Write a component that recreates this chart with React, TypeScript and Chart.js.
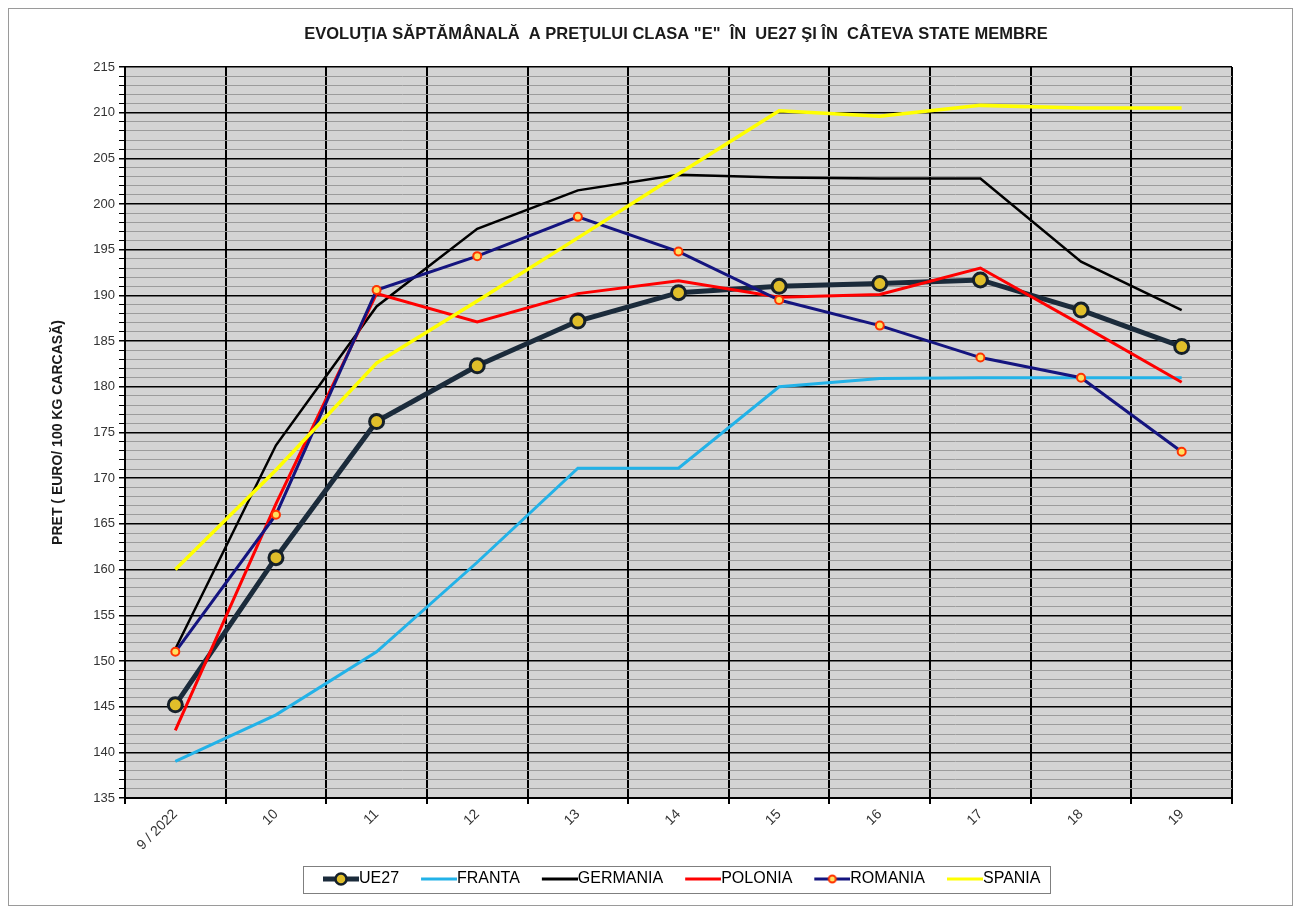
import React, { useEffect, useRef } from 'react';
import { Chart, registerables } from 'chart.js';

Chart.register(...registerables);

// ---- Data ----
const weeks = ['9 / 2022', '10', '11', '12', '13', '14', '15', '16', '17', '18', '19'];
const ue27 = [145.2, 161.3, 176.2, 182.3, 187.2, 190.3, 191.0, 191.3, 191.7, 188.4, 184.4];
const franta = [139.0, 144.1, 151.0, 160.8, 171.1, 171.1, 180.0, 180.9, 181.0, 181.0, 181.0];
const germania = [151.3, 173.6, 188.8, 197.3, 201.5, 203.2, 202.9, 202.8, 202.8, 193.7, 188.4];
const polonia = [142.4, 167.2, 190.2, 187.1, 190.2, 191.6, 189.8, 190.1, 193.0, 186.8, 180.5];
const romania = [151.0, 166.0, 190.6, 194.3, 198.6, 194.8, 189.5, 186.7, 183.2, 181.0, 172.9];
const spania = [160.0, 170.9, 182.6, 189.4, 196.3, 203.3, 210.2, 209.6, 210.8, 210.5, 210.5];

const seriesNames = ['UE27', 'FRANTA', 'GERMANIA', 'POLONIA', 'ROMANIA', 'SPANIA'];
const titleText = 'EVOLUŢIA SĂPTĂMÂNALĂ  A PREŢULUI CLASA "E"  ÎN  UE27 ŞI ÎN  CÂTEVA STATE MEMBRE';
const yTitleText = 'PRET ( EURO/ 100 KG CARCASĂ)';
const yMin = 135;
const yMax = 215;

// ---- Layout constants (canvas coordinates) ----
const TITLE_CENTER = 667;
const LEGEND_START = 310;
const FONT = 'Liberation Sans, Arial, sans-serif';

type Marker = { r: number; fill: string; stroke: string; bw: number };

// legend symbol: 48px wide image, visible line in the right 36px
function makeSymbol(color: string, width: number, marker?: Marker) {
  const c = document.createElement('canvas');
  c.width = 48;
  c.height = 18;
  const g = c.getContext('2d')!;
  g.strokeStyle = color;
  g.lineWidth = width;
  g.beginPath();
  g.moveTo(12, 9);
  g.lineTo(48, 9);
  g.stroke();
  if (marker) {
    g.beginPath();
    g.arc(30, 9, marker.r, 0, Math.PI * 2);
    g.fillStyle = marker.fill;
    g.fill();
    g.lineWidth = marker.bw;
    g.strokeStyle = marker.stroke;
    g.stroke();
  }
  return c;
}

export default function App() {
  const ref = useRef<HTMLCanvasElement | null>(null);

  useEffect(() => {
    if (!ref.current) return;

    const symbols = [
      makeSymbol('#1B2B3B', 5, { r: 5.5, fill: '#E0BE2A', stroke: '#15202B', bw: 2.5 }),
      makeSymbol('#22B2E8', 3),
      makeSymbol('#000000', 3),
      makeSymbol('#FF0000', 3),
      makeSymbol('#14147F', 3, { r: 3.5, fill: '#FFE060', stroke: '#FF3300', bw: 2 }),
      makeSymbol('#FFFF00', 3),
    ];

    const customPlugin = {
      id: 'customLayout',
      afterLayout(chart: any) {
        const lg = chart.legend;
        if (lg && lg.lineWidths) {
          const pad = lg.options.labels.padding;
          const cur = (lg.left + pad + lg.right - lg.lineWidths[0]) / 2;
          const shift = LEGEND_START - cur;
          lg.left += shift;
          lg.right += shift;
        }
        const tb = chart.titleBlock;
        if (tb) {
          const s = TITLE_CENTER - (tb.left + tb.right) / 2;
          tb.left += s;
          tb.right += s;
        }
      },
      beforeDraw(chart: any) {
        const { ctx, chartArea } = chart;
        ctx.save();
        ctx.fillStyle = '#D4D4D4';
        ctx.fillRect(chartArea.left, chartArea.top, chartArea.right - chartArea.left, chartArea.bottom - chartArea.top);
        ctx.restore();
      },
      afterDraw(chart: any) {
        const lg = chart.legend;
        if (!lg || !lg.legendHitBoxes || !lg.legendHitBoxes.length) return;
        const hb = lg.legendHitBoxes;
        const first = hb[0];
        const last = hb[hb.length - 1];
        const cy = first.top + first.height / 2;
        const left = first.left - 16;
        const right = last.left + last.width + 10;
        const ctx = chart.ctx;
        ctx.save();
        ctx.strokeStyle = '#7F7F7F';
        ctx.lineWidth = 1;
        ctx.strokeRect(Math.round(left) + 0.5, Math.round(cy - 13.5) + 0.5, Math.round(right - left), 27);
        ctx.restore();
      },
    };

    const chart = new Chart(ref.current, {
      type: 'line',
      data: {
        labels: weeks,
        datasets: [
          {
            label: seriesNames[0], data: ue27, borderColor: '#1B2B3B', borderWidth: 5,
            pointRadius: 7, pointBackgroundColor: '#E0BE2A', pointBorderColor: '#15202B', pointBorderWidth: 3,
            order: 6, tension: 0,
          },
          { label: seriesNames[1], data: franta, borderColor: '#22B2E8', borderWidth: 3, pointRadius: 0, order: 5, tension: 0 },
          { label: seriesNames[2], data: germania, borderColor: '#000000', borderWidth: 2.5, pointRadius: 0, order: 4, tension: 0 },
          { label: seriesNames[3], data: polonia, borderColor: '#FF0000', borderWidth: 3, pointRadius: 0, order: 3, tension: 0 },
          {
            label: seriesNames[4], data: romania, borderColor: '#14147F', borderWidth: 3,
            pointRadius: 4, pointBackgroundColor: '#FFE060', pointBorderColor: '#FF3300', pointBorderWidth: 2,
            order: 2, tension: 0,
          },
          { label: seriesNames[5], data: spania, borderColor: '#FFFF00', borderWidth: 3.5, pointRadius: 0, order: 1, tension: 0 },
        ],
      },
      options: {
        animation: false,
        responsive: true,
        maintainAspectRatio: false,
        layout: { padding: { left: 0, right: 60, top: 0, bottom: 8 } },
        plugins: {
          tooltip: { enabled: false },
          title: {
            display: true,
            text: titleText,
            color: '#1A1A1A',
            font: { family: FONT, size: 16.5, weight: 'bold' },
            padding: { top: 15.1, bottom: 23.1 },
          },
          legend: {
            display: true,
            position: 'bottom',
            labels: {
              usePointStyle: true,
              pointStyleWidth: 32,
              padding: 18,
              color: '#1A1A1A',
              font: { family: FONT, size: 16 },
              generateLabels: (ch: any) =>
                ch.data.datasets.map((ds: any, i: number) => ({
                  text: ds.label,
                  pointStyle: symbols[i],
                  fillStyle: 'transparent',
                  strokeStyle: 'transparent',
                  lineWidth: 0,
                  hidden: false,
                  datasetIndex: i,
                })),
            },
          },
        },
        scales: {
          x: {
            offset: true,
            afterFit: (scale: any) => { scale.height = 55; },
            grid: {
              offset: true,
              color: (c: any) => (c.index === weeks.length ? 'rgba(0,0,0,0)' : '#000000'),
              lineWidth: 2,
              tickLength: 6,
              tickColor: '#000000',
            },
            border: { color: '#000000', width: 2 },
            ticks: {
              autoSkip: false,
              minRotation: 45,
              maxRotation: 45,
              color: '#333333',
              font: { family: FONT, size: 14 },
              padding: 2,
            },
          },
          y: {
            min: yMin,
            max: yMax,
            afterFit: (scale: any) => { scale.width = 116; },
            title: {
              display: true,
              text: yTitleText,
              color: '#1A1A1A',
              font: { family: FONT, size: 14, weight: 'bold' },
              padding: { top: 40.6, bottom: 0 },
            },
            grid: {
              color: (c: any) => (c.tick && Math.round(c.tick.value) % 5 === 0 ? '#000000' : '#9C9C9C'),
              lineWidth: (c: any) => (c.tick && Math.round(c.tick.value) % 5 === 0 ? 1.5 : 1),
              tickLength: 6,
              tickColor: '#000000',
            },
            border: { color: '#000000', width: 2 },
            ticks: {
              stepSize: 1,
              maxTicksLimit: 200,
              autoSkip: false,
              padding: 4,
              color: '#333333',
              font: { family: FONT, size: 13 },
              callback: (v: any) => (Math.round(Number(v)) % 5 === 0 ? String(v) : ''),
            },
          },
        },
      },
      plugins: [customPlugin],
    } as any);

    return () => chart.destroy();
  }, []);

  return (
    <div
      style={{
        width: 1285,
        height: 898,
        border: '1px solid #9A9A9A',
        boxSizing: 'border-box',
        position: 'relative',
        background: '#FFFFFF',
      }}
    >
      <canvas ref={ref} />
    </div>
  );
}
